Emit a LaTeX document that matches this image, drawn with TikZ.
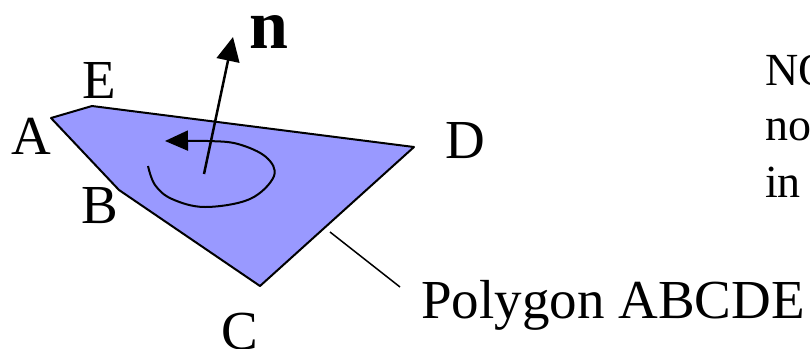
\documentclass[tikz,border=0pt]{standalone}
\usepackage{fontspec}
\setmainfont{Liberation Serif}
\usetikzlibrary{arrows.meta, positioning}
\definecolor{polyblue}{RGB}{153,153,255}

\begin{document}
\begin{tikzpicture}[
    x=1bp, y=-1bp,
    lbl/.style={font=\fontsize{55bp}{60bp}\selectfont, inner sep=0pt, anchor=base},
    note/.style={font=\fontsize{46bp}{56bp}\selectfont, inner sep=0pt, anchor=base west},
    edge/.style={line width=2bp, line join=round},
    normal/.style={line width=2.5bp, -{Triangle[length=24bp, width=23bp]}},
    curl/.style={line width=2bp, -{Triangle[length=23bp, width=20bp]}}
]
\useasboundingbox (0,0) rectangle (810,348);
\clip (0,0) rectangle (810,348);

% Corners of the polygon
\coordinate (A) at (51,118);
\coordinate (E) at (92,106);
\coordinate (D) at (414,147);
\coordinate (C) at (260,286);
\coordinate (B) at (119,190);

\filldraw[edge, fill=polyblue] (A) -- (E) -- (D) -- (C) -- (B) -- cycle;

% Corner labels
\node[lbl] (labA) at (31,154) {A};
\node[lbl] (labE) at (99,98) {E};
\node[lbl] (labD) at (465,158) {D};
\node[lbl] (labB) at (100,223) {B};
\node[lbl] (labC) at (240,349) {C};

% Normal vector
\coordinate (nbase) at (204,174);
\coordinate (ntip) at (233,37);
\draw[normal] (nbase) -- (ntip);
\node[font=\bfseries\fontsize{70bp}{70bp}\selectfont, inner sep=0pt, anchor=base] (nlabel) at (269,48) {n};

% Orientation curl (drawn round the normal)
\draw[curl] plot[smooth, tension=0.6] coordinates {(148,166) (155,185) (172,199) (205,207) (250,199) (274,176) (266,157) (238,144) (208,141) (165,141)};

% Callout to the polygon name
\coordinate (tail) at (330,232);
\coordinate (head) at (400,287);
\draw[line width=1.5bp] (tail) -- (head);
\node[lbl, anchor=base west] (polyname) at (421,318) {Polygon ABCDE};

% Note on the right, cut off by the frame
\node[note] (note1) at (765,85) {NO};
\node[note] (note2) at (765,140) {no};
\node[note] (note3) at (765,197) {in};
\end{tikzpicture}
\end{document}
